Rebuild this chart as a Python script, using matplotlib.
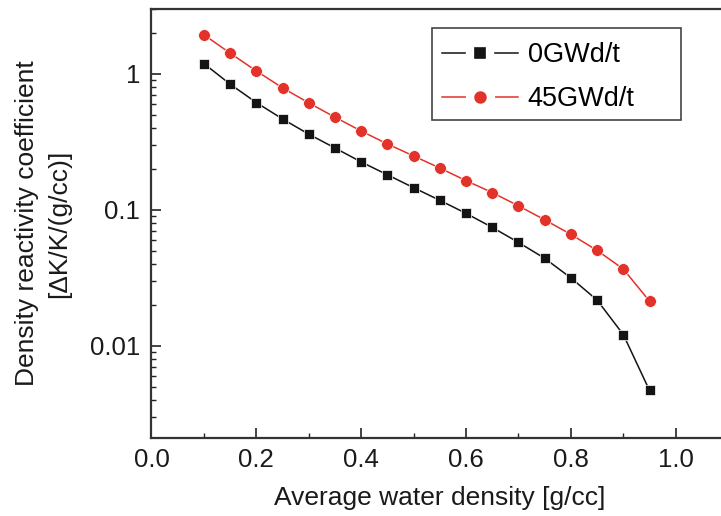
import matplotlib
matplotlib.use('Agg')
import matplotlib.pyplot as plt
import matplotlib.ticker as ticker
from matplotlib.lines import Line2D
from matplotlib.patches import Rectangle

plt.rcParams['font.family'] = ['Liberation Sans', 'DejaVu Sans']

density = [0.10, 0.15, 0.20, 0.25, 0.30, 0.35, 0.40, 0.45, 0.50,
           0.55, 0.60, 0.65, 0.70, 0.75, 0.80, 0.85, 0.90, 0.95]
coef_0gwd = [1.19, 0.84, 0.615, 0.466, 0.36, 0.285, 0.225, 0.181, 0.1455,
             0.1175, 0.0942, 0.0743, 0.0576, 0.0440, 0.0316, 0.0217, 0.0121, 0.0047]
coef_45gwd = [1.94, 1.42, 1.05, 0.789, 0.612, 0.48, 0.38, 0.305, 0.249,
              0.203, 0.164, 0.134, 0.107, 0.0845, 0.066, 0.0503, 0.0367, 0.0213]
labels = ['0GWd/t', '45GWd/t']

black = '#141414'
red = '#e2322a'

W, H = 721, 516
fig = plt.figure(figsize=(W / 100, H / 100), dpi=100)
ax = fig.add_axes([0.2101, 0.1512, 0.7998, 0.8314])

ax.plot(density, coef_0gwd, color=black, lw=1.1, marker='s', ms=7.5,
        mfc=black, mec='white', mew=0.5)
ax.plot(density, coef_45gwd, color=red, lw=1.1, marker='o', ms=8.5,
        mfc=red, mec='white', mew=0.5)

ax.set_yscale('log')
ax.set_xlim(0, 1.1)
ax.set_ylim(0.0021, 3.0)

ax.xaxis.set_major_locator(ticker.MultipleLocator(0.2))
ax.xaxis.set_minor_locator(ticker.MultipleLocator(0.1))
ax.xaxis.set_major_formatter(ticker.FormatStrFormatter('%.1f'))
ax.yaxis.set_major_locator(ticker.FixedLocator([0.01, 0.1, 1]))
ax.yaxis.set_major_formatter(ticker.FixedFormatter(['0.01', '0.1', '1']))
ax.yaxis.set_minor_locator(ticker.LogLocator(base=10, subs=range(2, 10)))
ax.yaxis.set_minor_formatter(ticker.NullFormatter())

ax.tick_params(which='both', direction='in', colors='#222222', labelcolor='#1a1a1a')
ax.tick_params(axis='x', which='major', length=7, width=1.2, labelsize=18.5, pad=7)
ax.tick_params(axis='x', which='minor', length=3.5, width=1.0)
ax.tick_params(axis='y', which='major', length=7, width=1.2, labelsize=18.5, pad=8)
ax.tick_params(axis='y', which='minor', length=3.5, width=1.0)

for s in ax.spines.values():
    s.set_linewidth(1.6)
    s.set_color('#333333')

ax.set_xlabel('Average water density [g/cc]', fontsize=19, color='#1a1a1a', labelpad=10)
ax.set_ylabel('Density reactivity coefficient\n[ΔK/K/(g/cc)]', fontsize=19,
              color='#1a1a1a', labelpad=13.5, linespacing=1.45)

# legend frame (wider on the right than the entries need)
fig.patches.append(Rectangle((432 / W, 1 - 120 / H), (681 - 432) / W, 92 / H,
                             transform=fig.transFigure, facecolor='white',
                             edgecolor='#444444', lw=1.2, zorder=5))

handles = [
    Line2D([], [], color=black, lw=1.1, marker='s', ms=14, mfc=black, mec='white', mew=6),
    Line2D([], [], color=red, lw=1.1, marker='o', ms=15, mfc=red, mec='white', mew=6),
]
leg = fig.legend(handles, labels, loc='upper left', bbox_to_anchor=(437 / W, 1 - 37 / H),
                 bbox_transform=fig.transFigure, fontsize=19.5, frameon=False,
                 handlelength=2.8, borderpad=0.2, labelspacing=0.65,
                 handletextpad=0.35, borderaxespad=0)
leg.set_zorder(6)

fig.savefig('out.png', dpi=100)
